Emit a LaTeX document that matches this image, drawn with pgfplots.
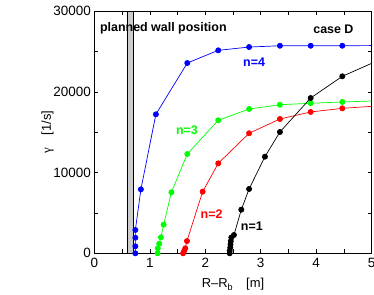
\documentclass[border=0pt]{standalone}
\usepackage{fontspec}
\setmainfont{Liberation Sans}
\newfontfamily\seriffont{Liberation Serif}
\usepackage{pgfplots}
\pgfplotsset{compat=1.18}
\begin{document}
\begin{tikzpicture}
\begin{axis}[
  scale only axis,
  width=277.4bp, height=242bp,
  xmin=0, xmax=5, ymin=0, ymax=30000,
  xtick={0,1,2,3,4,5},
  minor xtick={0.5,1.5,2.5,3.5,4.5},
  ytick={0,10000,20000,30000},
  minor ytick={5000,15000,25000},
  tick align=inside,
  major tick length=4bp, minor tick length=4bp,
  tick style={black, line width=0.5pt},
  scaled y ticks=false,
  /pgf/number format/assume math mode=true,
  yticklabel style={/pgf/number format/1000 sep={}},
  tick label style={font=\fontsize{13.5}{14}\selectfont},
  xticklabel style={yshift=-1bp},
  xlabel={R--R\textsubscript{b}\quad[m]},
  ylabel={{\seriffont γ}\quad[1/s]},
  label style={font=\fontsize{13}{14}\selectfont},
  xlabel style={yshift=-4bp},
  ylabel style={yshift=-7bp},
  axis line style={line width=0.6pt},
  every axis plot/.append style={line width=0.7pt},
  mark size=2.6pt,
]
% wall band
\addplot[draw=black, fill=gray!40, line width=0.6pt] coordinates {(0.595,0) (0.70,0) (0.70,30000) (0.595,30000)} -- cycle;
% n=4
\addplot[blue, mark=*] coordinates {(0.74,0) (0.74,870) (0.74,1930) (0.74,2890) (0.84,7930) (1.11,17230) (1.676,23590) (2.234,25160) (2.79,25570) (3.346,25730) (3.90,25730) (4.47,25730)};
\addplot[blue] coordinates {(4.47,25730) (5,25750)};
% n=3
\addplot[green, mark=*] coordinates {(1.14,0) (1.145,620) (1.17,1190) (1.20,1980) (1.25,3550) (1.39,7560) (1.676,12310) (2.234,16490) (2.79,17890) (3.346,18420) (3.90,18600) (4.47,18760)};
\addplot[green] coordinates {(4.47,18760) (5,18880)};
% n=2
\addplot[red, mark=*] coordinates {(1.60,0) (1.62,300) (1.64,620) (1.67,1520) (1.953,7640) (2.234,11150) (2.79,14880) (3.346,16650) (3.90,17520) (4.47,17970)};
\addplot[red] coordinates {(4.47,17970) (5,18220)};
% n=1
\addplot[black, mark=*] coordinates {(2.44,0) (2.44,300) (2.45,700) (2.455,1100) (2.46,1500) (2.47,1950) (2.517,2270) (2.65,5410) (2.79,7970) (3.076,11980) (3.346,15040) (3.90,19250) (4.47,21940)};
\addplot[black] coordinates {(4.47,21940) (5,23550)};
\node[anchor=west, font=\fontsize{12.5}{13}\selectfont\bfseries, inner sep=0pt] at (axis cs:0.10,27930) {planned wall position};
\node[font=\fontsize{12.5}{13}\selectfont\bfseries, inner sep=0pt] at (axis cs:4.31,27800) {case D};
\node[blue, font=\fontsize{12.5}{13}\selectfont\bfseries, inner sep=0pt] at (axis cs:2.88,23710) {n=4};
\node[green, font=\fontsize{12.5}{13}\selectfont\bfseries, inner sep=0pt] at (axis cs:1.67,15290) {n=3};
\node[red, font=\fontsize{12.5}{13}\selectfont\bfseries, inner sep=0pt] at (axis cs:2.115,4870) {n=2};
\node[black, font=\fontsize{12.5}{13}\selectfont\bfseries, inner sep=0pt] at (axis cs:2.84,3380) {n=1};
\end{axis}
\pgfresetboundingbox
\path (current axis.south west) ++(-94.3bp,-41.7bp) rectangle ++(374bp,295bp);
\end{tikzpicture}
\end{document}
